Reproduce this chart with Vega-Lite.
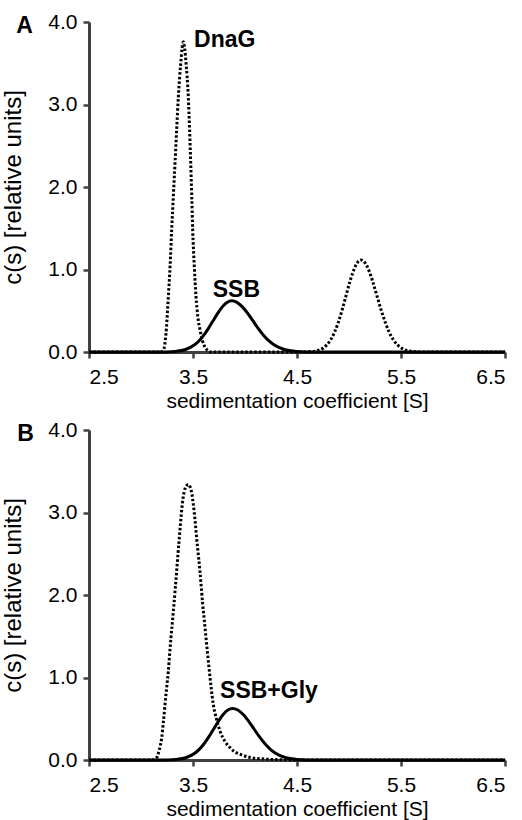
{
  "$schema": "https://vega.github.io/schema/vega-lite/v6.json",
  "padding": {"left": 1, "top": 11, "right": 0, "bottom": 5},
  "background": "white",
  "config": {
    "view": {"stroke": null},
    "font": "Liberation Sans",
    "axis": {
      "labelFont": "Liberation Sans", "labelFontSize": 21, "labelColor": "#000",
      "titleFont": "Liberation Sans", "titleFontSize": 21, "titleFontWeight": "normal", "titleColor": "#000",
      "domainColor": "#404040", "domainWidth": 3, "tickColor": "#404040", "tickWidth": 2.5, "tickSize": 6, "grid": false
    },
    "axisX": {"labelPadding": 8, "titlePadding": 3},
    "axisY": {"labelPadding": 6, "titlePadding": 22, "titleFontSize": 24}
  },
  "datasets": {
    "curves": [
      {"panel": "A", "series": "DnaG", "s": 2.5, "c": 0},
      {"panel": "A", "series": "DnaG", "s": 3.1, "c": 0},
      {"panel": "A", "series": "DnaG", "s": 3.19, "c": 0},
      {"panel": "A", "series": "DnaG", "s": 3.215, "c": 0.02},
      {"panel": "A", "series": "DnaG", "s": 3.24, "c": 0.22},
      {"panel": "A", "series": "DnaG", "s": 3.263, "c": 0.67},
      {"panel": "A", "series": "DnaG", "s": 3.28, "c": 1.05},
      {"panel": "A", "series": "DnaG", "s": 3.295, "c": 1.48},
      {"panel": "A", "series": "DnaG", "s": 3.311, "c": 1.89},
      {"panel": "A", "series": "DnaG", "s": 3.327, "c": 2.29},
      {"panel": "A", "series": "DnaG", "s": 3.343, "c": 2.7},
      {"panel": "A", "series": "DnaG", "s": 3.359, "c": 3.09},
      {"panel": "A", "series": "DnaG", "s": 3.382, "c": 3.5},
      {"panel": "A", "series": "DnaG", "s": 3.395, "c": 3.68},
      {"panel": "A", "series": "DnaG", "s": 3.407, "c": 3.76},
      {"panel": "A", "series": "DnaG", "s": 3.42, "c": 3.68},
      {"panel": "A", "series": "DnaG", "s": 3.433, "c": 3.5},
      {"panel": "A", "series": "DnaG", "s": 3.455, "c": 3.09},
      {"panel": "A", "series": "DnaG", "s": 3.467, "c": 2.7},
      {"panel": "A", "series": "DnaG", "s": 3.478, "c": 2.29},
      {"panel": "A", "series": "DnaG", "s": 3.488, "c": 1.89},
      {"panel": "A", "series": "DnaG", "s": 3.497, "c": 1.48},
      {"panel": "A", "series": "DnaG", "s": 3.512, "c": 1.05},
      {"panel": "A", "series": "DnaG", "s": 3.529, "c": 0.67},
      {"panel": "A", "series": "DnaG", "s": 3.547, "c": 0.42},
      {"panel": "A", "series": "DnaG", "s": 3.567, "c": 0.27},
      {"panel": "A", "series": "DnaG", "s": 3.59, "c": 0.14},
      {"panel": "A", "series": "DnaG", "s": 3.615, "c": 0.06},
      {"panel": "A", "series": "DnaG", "s": 3.64, "c": 0.02},
      {"panel": "A", "series": "DnaG", "s": 3.67, "c": 0},
      {"panel": "A", "series": "DnaG", "s": 4.5, "c": 0},
      {"panel": "A", "series": "DnaG", "s": 4.608, "c": 0.003},
      {"panel": "A", "series": "DnaG", "s": 4.68, "c": 0.012},
      {"panel": "A", "series": "DnaG", "s": 4.753, "c": 0.049},
      {"panel": "A", "series": "DnaG", "s": 4.825, "c": 0.151},
      {"panel": "A", "series": "DnaG", "s": 4.861, "c": 0.241},
      {"panel": "A", "series": "DnaG", "s": 4.898, "c": 0.362},
      {"panel": "A", "series": "DnaG", "s": 4.934, "c": 0.51},
      {"panel": "A", "series": "DnaG", "s": 4.97, "c": 0.676},
      {"panel": "A", "series": "DnaG", "s": 5.006, "c": 0.842},
      {"panel": "A", "series": "DnaG", "s": 5.043, "c": 0.984},
      {"panel": "A", "series": "DnaG", "s": 5.079, "c": 1.081},
      {"panel": "A", "series": "DnaG", "s": 5.115, "c": 1.115},
      {"panel": "A", "series": "DnaG", "s": 5.154, "c": 1.081},
      {"panel": "A", "series": "DnaG", "s": 5.193, "c": 0.984},
      {"panel": "A", "series": "DnaG", "s": 5.231, "c": 0.842},
      {"panel": "A", "series": "DnaG", "s": 5.27, "c": 0.676},
      {"panel": "A", "series": "DnaG", "s": 5.309, "c": 0.51},
      {"panel": "A", "series": "DnaG", "s": 5.348, "c": 0.362},
      {"panel": "A", "series": "DnaG", "s": 5.386, "c": 0.241},
      {"panel": "A", "series": "DnaG", "s": 5.425, "c": 0.151},
      {"panel": "A", "series": "DnaG", "s": 5.503, "c": 0.049},
      {"panel": "A", "series": "DnaG", "s": 5.58, "c": 0.012},
      {"panel": "A", "series": "DnaG", "s": 5.658, "c": 0.003},
      {"panel": "A", "series": "DnaG", "s": 5.735, "c": 0},
      {"panel": "A", "series": "DnaG", "s": 6.5, "c": 0},

      {"panel": "A", "series": "SSB", "s": 2.5, "c": 0},
      {"panel": "A", "series": "SSB", "s": 3.15, "c": 0},
      {"panel": "A", "series": "SSB", "s": 3.242, "c": 0.001},
      {"panel": "A", "series": "SSB", "s": 3.332, "c": 0.007},
      {"panel": "A", "series": "SSB", "s": 3.422, "c": 0.027},
      {"panel": "A", "series": "SSB", "s": 3.512, "c": 0.084},
      {"panel": "A", "series": "SSB", "s": 3.557, "c": 0.134},
      {"panel": "A", "series": "SSB", "s": 3.602, "c": 0.201},
      {"panel": "A", "series": "SSB", "s": 3.647, "c": 0.284},
      {"panel": "A", "series": "SSB", "s": 3.692, "c": 0.376},
      {"panel": "A", "series": "SSB", "s": 3.737, "c": 0.468},
      {"panel": "A", "series": "SSB", "s": 3.782, "c": 0.547},
      {"panel": "A", "series": "SSB", "s": 3.827, "c": 0.601},
      {"panel": "A", "series": "SSB", "s": 3.872, "c": 0.62},
      {"panel": "A", "series": "SSB", "s": 3.923, "c": 0.601},
      {"panel": "A", "series": "SSB", "s": 3.975, "c": 0.547},
      {"panel": "A", "series": "SSB", "s": 4.026, "c": 0.468},
      {"panel": "A", "series": "SSB", "s": 4.077, "c": 0.376},
      {"panel": "A", "series": "SSB", "s": 4.128, "c": 0.284},
      {"panel": "A", "series": "SSB", "s": 4.18, "c": 0.201},
      {"panel": "A", "series": "SSB", "s": 4.231, "c": 0.134},
      {"panel": "A", "series": "SSB", "s": 4.282, "c": 0.084},
      {"panel": "A", "series": "SSB", "s": 4.385, "c": 0.027},
      {"panel": "A", "series": "SSB", "s": 4.487, "c": 0.007},
      {"panel": "A", "series": "SSB", "s": 4.59, "c": 0.001},
      {"panel": "A", "series": "SSB", "s": 4.7, "c": 0},
      {"panel": "A", "series": "SSB", "s": 6.5, "c": 0},

      {"panel": "B", "series": "DnaG", "s": 2.5, "c": 0},
      {"panel": "B", "series": "DnaG", "s": 3.1, "c": 0},
      {"panel": "B", "series": "DnaG", "s": 3.151, "c": 0.03},
      {"panel": "B", "series": "DnaG", "s": 3.175, "c": 0.12},
      {"panel": "B", "series": "DnaG", "s": 3.199, "c": 0.27},
      {"panel": "B", "series": "DnaG", "s": 3.215, "c": 0.46},
      {"panel": "B", "series": "DnaG", "s": 3.231, "c": 0.675},
      {"panel": "B", "series": "DnaG", "s": 3.247, "c": 0.88},
      {"panel": "B", "series": "DnaG", "s": 3.263, "c": 1.08},
      {"panel": "B", "series": "DnaG", "s": 3.275, "c": 1.28},
      {"panel": "B", "series": "DnaG", "s": 3.288, "c": 1.48},
      {"panel": "B", "series": "DnaG", "s": 3.303, "c": 1.69},
      {"panel": "B", "series": "DnaG", "s": 3.317, "c": 1.89},
      {"panel": "B", "series": "DnaG", "s": 3.33, "c": 2.09},
      {"panel": "B", "series": "DnaG", "s": 3.343, "c": 2.29},
      {"panel": "B", "series": "DnaG", "s": 3.355, "c": 2.49},
      {"panel": "B", "series": "DnaG", "s": 3.368, "c": 2.69},
      {"panel": "B", "series": "DnaG", "s": 3.382, "c": 2.9},
      {"panel": "B", "series": "DnaG", "s": 3.397, "c": 3.1},
      {"panel": "B", "series": "DnaG", "s": 3.415, "c": 3.25},
      {"panel": "B", "series": "DnaG", "s": 3.435, "c": 3.32},
      {"panel": "B", "series": "DnaG", "s": 3.455, "c": 3.34},
      {"panel": "B", "series": "DnaG", "s": 3.475, "c": 3.3},
      {"panel": "B", "series": "DnaG", "s": 3.49, "c": 3.22},
      {"panel": "B", "series": "DnaG", "s": 3.503, "c": 3.1},
      {"panel": "B", "series": "DnaG", "s": 3.52, "c": 2.9},
      {"panel": "B", "series": "DnaG", "s": 3.535, "c": 2.69},
      {"panel": "B", "series": "DnaG", "s": 3.551, "c": 2.49},
      {"panel": "B", "series": "DnaG", "s": 3.567, "c": 2.29},
      {"panel": "B", "series": "DnaG", "s": 3.58, "c": 2.09},
      {"panel": "B", "series": "DnaG", "s": 3.593, "c": 1.89},
      {"panel": "B", "series": "DnaG", "s": 3.609, "c": 1.69},
      {"panel": "B", "series": "DnaG", "s": 3.625, "c": 1.48},
      {"panel": "B", "series": "DnaG", "s": 3.641, "c": 1.28},
      {"panel": "B", "series": "DnaG", "s": 3.657, "c": 1.08},
      {"panel": "B", "series": "DnaG", "s": 3.675, "c": 0.87},
      {"panel": "B", "series": "DnaG", "s": 3.695, "c": 0.675},
      {"panel": "B", "series": "DnaG", "s": 3.725, "c": 0.5},
      {"panel": "B", "series": "DnaG", "s": 3.76, "c": 0.35},
      {"panel": "B", "series": "DnaG", "s": 3.805, "c": 0.23},
      {"panel": "B", "series": "DnaG", "s": 3.856, "c": 0.15},
      {"panel": "B", "series": "DnaG", "s": 3.9, "c": 0.1},
      {"panel": "B", "series": "DnaG", "s": 3.952, "c": 0.07},
      {"panel": "B", "series": "DnaG", "s": 4.05, "c": 0.03},
      {"panel": "B", "series": "DnaG", "s": 4.15, "c": 0.015},
      {"panel": "B", "series": "DnaG", "s": 4.3, "c": 0.005},
      {"panel": "B", "series": "DnaG", "s": 4.45, "c": 0},
      {"panel": "B", "series": "DnaG", "s": 6.5, "c": 0},

      {"panel": "B", "series": "SSB", "s": 2.5, "c": 0},
      {"panel": "B", "series": "SSB", "s": 3.16, "c": 0},
      {"panel": "B", "series": "SSB", "s": 3.25, "c": 0.001},
      {"panel": "B", "series": "SSB", "s": 3.34, "c": 0.007},
      {"panel": "B", "series": "SSB", "s": 3.43, "c": 0.027},
      {"panel": "B", "series": "SSB", "s": 3.52, "c": 0.085},
      {"panel": "B", "series": "SSB", "s": 3.565, "c": 0.135},
      {"panel": "B", "series": "SSB", "s": 3.61, "c": 0.203},
      {"panel": "B", "series": "SSB", "s": 3.655, "c": 0.287},
      {"panel": "B", "series": "SSB", "s": 3.7, "c": 0.379},
      {"panel": "B", "series": "SSB", "s": 3.745, "c": 0.472},
      {"panel": "B", "series": "SSB", "s": 3.79, "c": 0.552},
      {"panel": "B", "series": "SSB", "s": 3.835, "c": 0.606},
      {"panel": "B", "series": "SSB", "s": 3.88, "c": 0.625},
      {"panel": "B", "series": "SSB", "s": 3.931, "c": 0.606},
      {"panel": "B", "series": "SSB", "s": 3.983, "c": 0.552},
      {"panel": "B", "series": "SSB", "s": 4.034, "c": 0.472},
      {"panel": "B", "series": "SSB", "s": 4.085, "c": 0.379},
      {"panel": "B", "series": "SSB", "s": 4.136, "c": 0.287},
      {"panel": "B", "series": "SSB", "s": 4.188, "c": 0.203},
      {"panel": "B", "series": "SSB", "s": 4.239, "c": 0.135},
      {"panel": "B", "series": "SSB", "s": 4.29, "c": 0.085},
      {"panel": "B", "series": "SSB", "s": 4.393, "c": 0.027},
      {"panel": "B", "series": "SSB", "s": 4.495, "c": 0.007},
      {"panel": "B", "series": "SSB", "s": 4.6, "c": 0.001},
      {"panel": "B", "series": "SSB", "s": 4.71, "c": 0},
      {"panel": "B", "series": "SSB", "s": 6.5, "c": 0}
    ]
  },
  "spacing": 8,
  "vconcat": [
    {
      "width": 416, "height": 330,
      "layer": [
        {
          "data": {"name": "curves"},
          "transform": [{"filter": "datum.panel == 'A' && datum.series == 'DnaG'"}],
          "mark": {"type": "line", "color": "#000", "strokeWidth": 3, "strokeDash": [2.5, 2], "interpolate": "monotone"},
          "encoding": {
            "x": {"field": "s", "type": "quantitative", "scale": {"domain": [2.5, 6.5], "nice": false, "zero": false}, "axis": {"values": [2.5, 3.5, 4.5, 5.5, 6.5], "format": ".1f", "title": "sedimentation coefficient [S]"}},
            "y": {"field": "c", "type": "quantitative", "scale": {"domain": [0, 4], "nice": false}, "axis": {"values": [0, 1, 2, 3, 4], "format": ".1f", "title": "c(s) [relative units]"}}
          }
        },
        {
          "data": {"name": "curves"},
          "transform": [{"filter": "datum.panel == 'A' && datum.series == 'SSB'"}],
          "mark": {"type": "line", "color": "#000", "strokeWidth": 3, "interpolate": "monotone"},
          "encoding": {
            "x": {"field": "s", "type": "quantitative"},
            "y": {"field": "c", "type": "quantitative"}
          }
        },
        {
          "data": {"values": [{}]},
          "mark": {"type": "text", "align": "left", "baseline": "alphabetic", "fontSize": 23, "fontWeight": "bold", "font": "Liberation Sans", "color": "#000"},
          "encoding": {"x": {"datum": 3.51}, "y": {"datum": 3.7}, "text": {"value": "DnaG"}}
        },
        {
          "data": {"values": [{}]},
          "mark": {"type": "text", "align": "left", "baseline": "alphabetic", "fontSize": 23, "fontWeight": "bold", "font": "Liberation Sans", "color": "#000"},
          "encoding": {"x": {"datum": 3.69}, "y": {"datum": 0.67}, "text": {"value": "SSB"}}
        },
        {
          "data": {"values": [{}]},
          "mark": {"type": "text", "align": "left", "baseline": "alphabetic", "fontSize": 23, "fontWeight": "bold", "font": "Liberation Sans", "color": "#000"},
          "encoding": {"x": {"datum": 1.8}, "y": {"datum": 3.867}, "text": {"value": "A"}}
        }
      ]
    },
    {
      "width": 416, "height": 330,
      "layer": [
        {
          "data": {"name": "curves"},
          "transform": [{"filter": "datum.panel == 'B' && datum.series == 'DnaG'"}],
          "mark": {"type": "line", "color": "#000", "strokeWidth": 3, "strokeDash": [2.5, 2], "interpolate": "monotone"},
          "encoding": {
            "x": {"field": "s", "type": "quantitative", "scale": {"domain": [2.5, 6.5], "nice": false, "zero": false}, "axis": {"values": [2.5, 3.5, 4.5, 5.5, 6.5], "format": ".1f", "title": "sedimentation coefficient [S]"}},
            "y": {"field": "c", "type": "quantitative", "scale": {"domain": [0, 4], "nice": false}, "axis": {"values": [0, 1, 2, 3, 4], "format": ".1f", "title": "c(s) [relative units]"}}
          }
        },
        {
          "data": {"name": "curves"},
          "transform": [{"filter": "datum.panel == 'B' && datum.series == 'SSB'"}],
          "mark": {"type": "line", "color": "#000", "strokeWidth": 3, "interpolate": "monotone"},
          "encoding": {
            "x": {"field": "s", "type": "quantitative"},
            "y": {"field": "c", "type": "quantitative"}
          }
        },
        {
          "data": {"values": [{}]},
          "mark": {"type": "text", "align": "left", "baseline": "alphabetic", "fontSize": 23, "fontWeight": "bold", "font": "Liberation Sans", "color": "#000"},
          "encoding": {"x": {"datum": 3.76}, "y": {"datum": 0.75}, "text": {"value": "SSB+Gly"}}
        },
        {
          "data": {"values": [{}]},
          "mark": {"type": "text", "align": "left", "baseline": "alphabetic", "fontSize": 23, "fontWeight": "bold", "font": "Liberation Sans", "color": "#000"},
          "encoding": {"x": {"datum": 1.81}, "y": {"datum": 3.867}, "text": {"value": "B"}}
        }
      ]
    }
  ]
}
